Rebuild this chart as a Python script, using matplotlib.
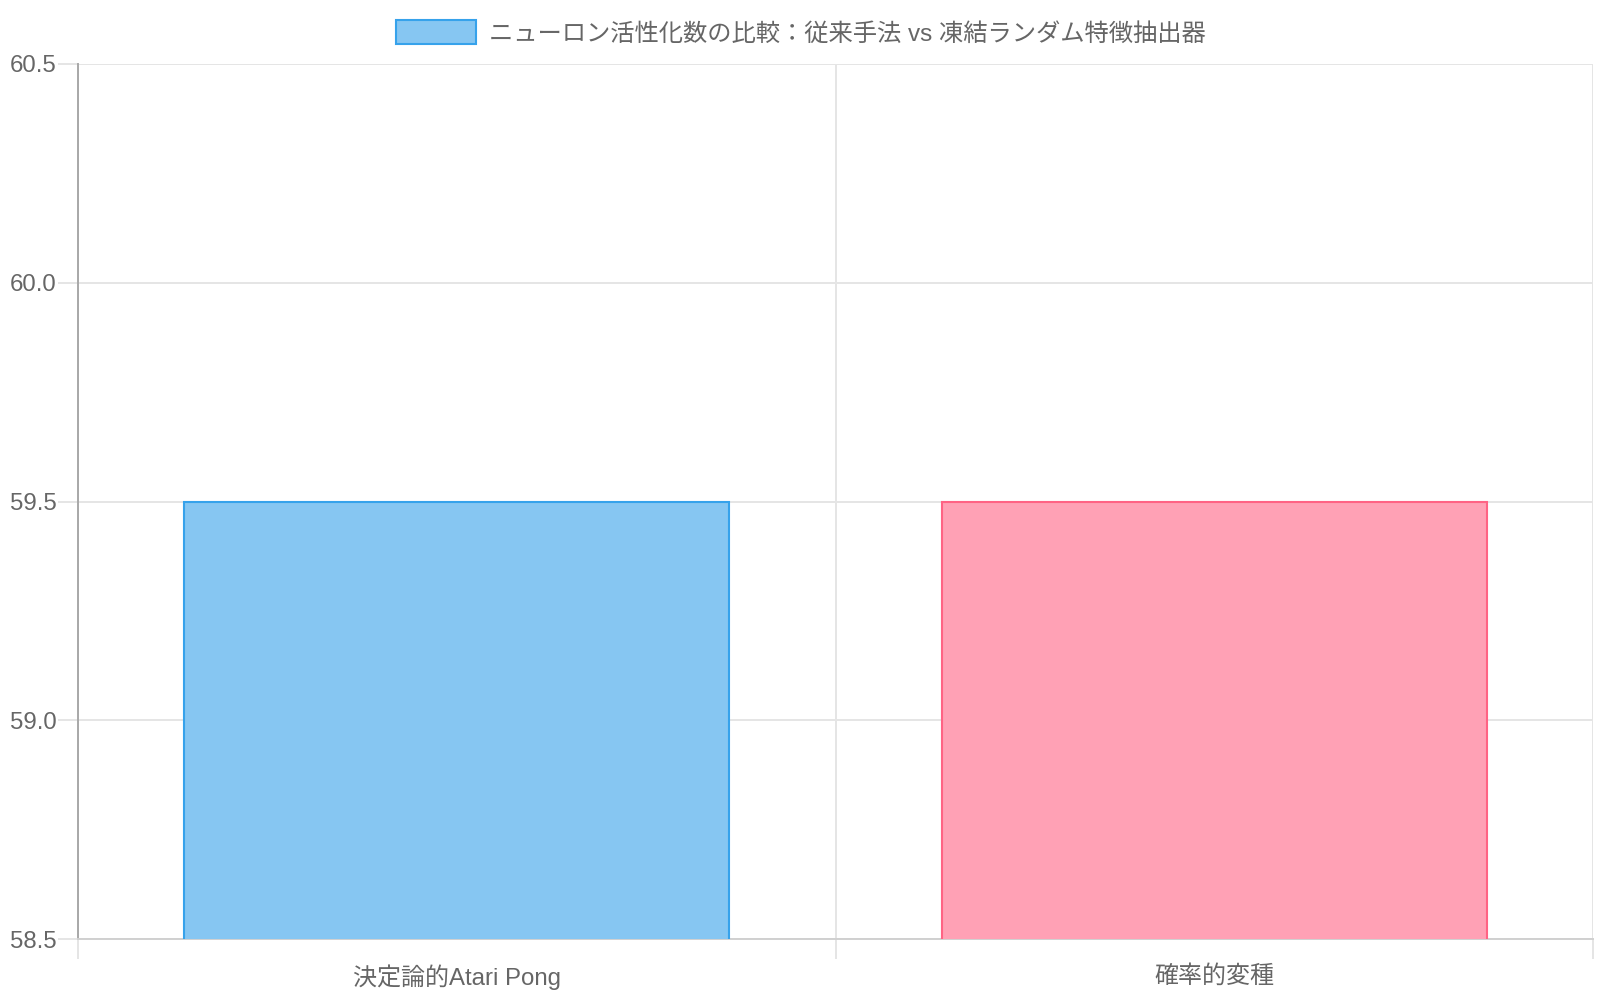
import matplotlib
matplotlib.use("Agg")
import matplotlib.pyplot as plt
from matplotlib.patches import Rectangle
from matplotlib.ticker import FormatStrFormatter

categories = ["決定論的Atari Pong", "確率的変種"]
values = [59.5, 59.5]
legend_label = "ニューロン活性化数の比較：従来手法 vs 凍結ランダム特徴抽出器"
y_ticks = [58.5, 59.0, 59.5, 60.0, 60.5]

fill_colors = ["#86c6f2", "#ffa1b5"]
edge_colors = ["#36a2eb", "#ff6384"]

plt.rcParams["font.family"] = ["Liberation Sans", "Noto Sans CJK JP", "DejaVu Sans"]

W, H = 1600, 1000
fig = plt.figure(figsize=(W / 100, H / 100), dpi=100)

# plot area in pixels
left, right, top, bottom = 78, 1593, 64, 939
ax = fig.add_axes([left / W, 1 - bottom / H, (right - left) / W, (bottom - top) / H])

x = list(range(len(categories)))
ax.bar(x, values, width=0.72, color=fill_colors, edgecolor=edge_colors,
       linewidth=1.5, zorder=3)

ax.set_xlim(-0.5, len(categories) - 0.5)
ax.set_ylim(y_ticks[0], y_ticks[-1])

text_color = "#666666"
grid_color = "#e5e5e5"

# y axis
ax.set_yticks(y_ticks)
ax.yaxis.set_major_formatter(FormatStrFormatter("%.1f"))
ax.tick_params(axis="y", length=14.4, width=1.4, color=grid_color, pad=1,
               labelsize=17.3, labelcolor=text_color)
ax.grid(axis="y", color=grid_color, linewidth=1.4, zorder=0)

# x axis: labels at centres, grid/ticks at boundaries
ax.set_xticks(x)
ax.set_xticklabels(categories)
ax.tick_params(axis="x", which="major", length=0, pad=18.5,
               labelsize=17.3, labelcolor=text_color)
ax.set_xticks([i - 0.5 for i in range(len(categories) + 1)], minor=True)
ax.tick_params(axis="x", which="minor", length=14.4, width=1.4, color=grid_color)
ax.grid(axis="x", which="minor", color=grid_color, linewidth=1.4, zorder=0)

for s in ["top", "right"]:
    ax.spines[s].set_visible(False)
ax.spines["left"].set_color("#a8a8a8")
ax.spines["left"].set_linewidth(1.4)
ax.spines["bottom"].set_color("#d0d0d0")
ax.spines["bottom"].set_linewidth(1.4)

# legend drawn at top centre like the original
fig.add_artist(Rectangle((396 / W, 1 - 44 / H), 80 / W, 24 / H,
                         transform=fig.transFigure, facecolor=fill_colors[0],
                         edgecolor=edge_colors[0], linewidth=1.5))
fig.text(489 / W, 1 - 34 / H, legend_label, ha="left", va="center",
         fontsize=17.5, color=text_color)

fig.savefig("out.png", dpi=100, facecolor="white")
